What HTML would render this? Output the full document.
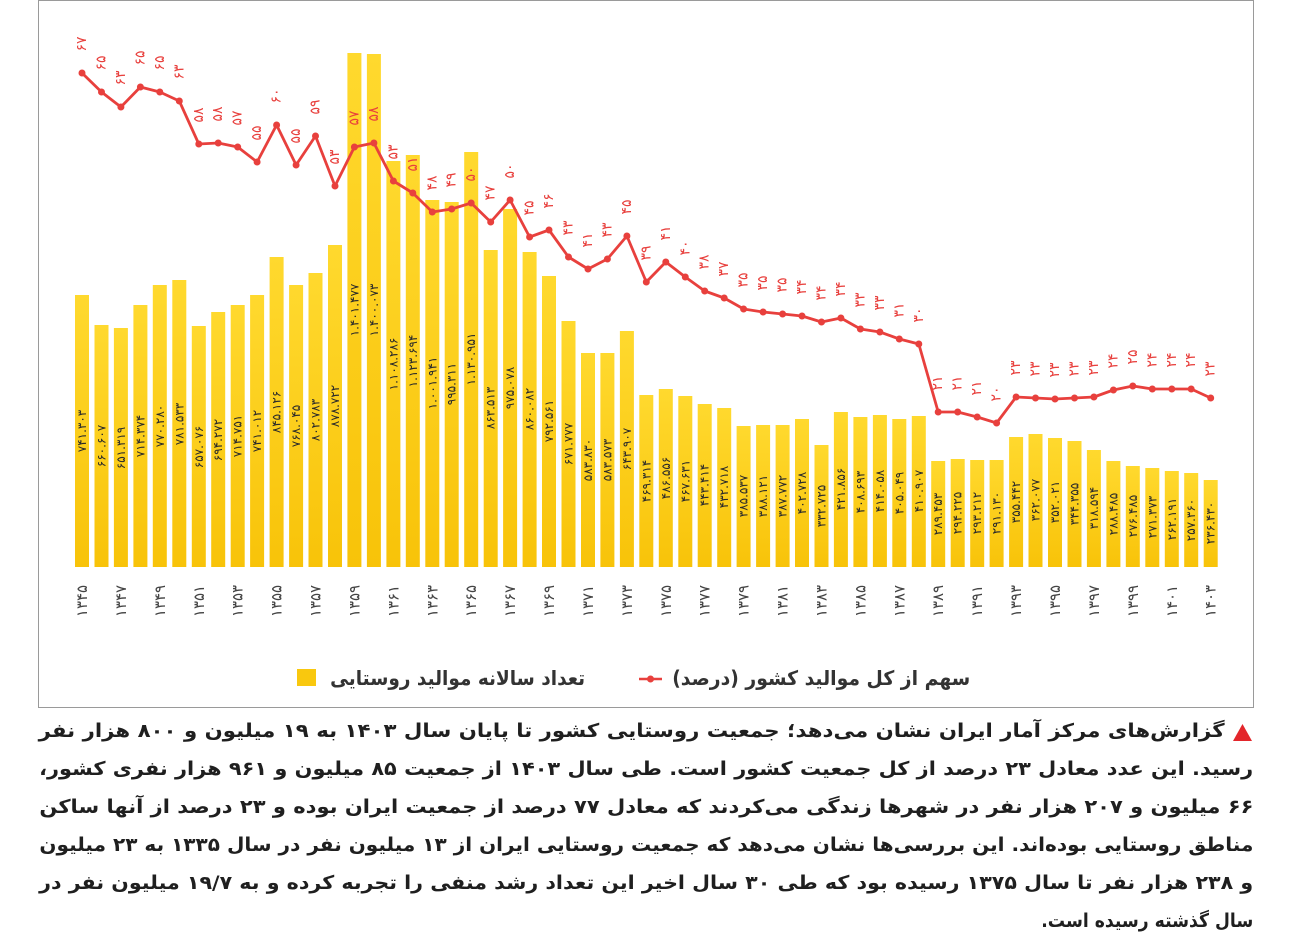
<!DOCTYPE html>
<html><head><meta charset="utf-8">
<style>
html,body{margin:0;padding:0;background:#fff;}
body{width:1292px;height:949px;position:relative;overflow:hidden;font-family:"DejaVu Sans","Liberation Sans",sans-serif;}
svg{position:absolute;left:0;top:0;}
.fa{position:absolute;white-space:nowrap;direction:rtl;font-weight:bold;color:#1f1f1f;transform-origin:right center;}
.cap{font-size:19px;line-height:24px;}
</style></head><body>
<svg width="1292" height="949" viewBox="0 0 1292 949" xmlns="http://www.w3.org/2000/svg">
<defs><linearGradient id="g" x1="0" y1="0" x2="0" y2="1"><stop offset="0" stop-color="#FFD92E"/><stop offset="1" stop-color="#F8C309"/></linearGradient></defs>
<rect x="38.5" y="0.5" width="1215" height="707" fill="#fff" stroke="#9a9a9a" stroke-width="1"/>
<g fill="url(#g)">
<rect x="75" y="295" width="14" height="272"/><rect x="94.5" y="325" width="14" height="242"/><rect x="113.9" y="328" width="14" height="239"/><rect x="133.4" y="305" width="14" height="262"/><rect x="152.8" y="285" width="14" height="282"/><rect x="172.3" y="280" width="14" height="287"/><rect x="191.8" y="326" width="14" height="241"/><rect x="211.2" y="312" width="14" height="255"/><rect x="230.7" y="305" width="14" height="262"/><rect x="250.1" y="295" width="14" height="272"/>
<rect x="269.6" y="257" width="14" height="310"/><rect x="289.1" y="285" width="14" height="282"/><rect x="308.5" y="273" width="14" height="294"/><rect x="328" y="245" width="14" height="322"/><rect x="347.4" y="53" width="14" height="514"/><rect x="366.9" y="54" width="14" height="513"/><rect x="386.4" y="161" width="14" height="406"/><rect x="405.8" y="155" width="14" height="412"/><rect x="425.3" y="200" width="14" height="367"/><rect x="444.7" y="202" width="14" height="365"/>
<rect x="464.2" y="152" width="14" height="415"/><rect x="483.7" y="250" width="14" height="317"/><rect x="503.1" y="209" width="14" height="358"/><rect x="522.6" y="252" width="14" height="315"/><rect x="542" y="276" width="14" height="291"/><rect x="561.5" y="321" width="14" height="246"/><rect x="581" y="353" width="14" height="214"/><rect x="600.4" y="353" width="14" height="214"/><rect x="619.9" y="331" width="14" height="236"/><rect x="639.3" y="395" width="14" height="172"/>
<rect x="658.8" y="389" width="14" height="178"/><rect x="678.3" y="396" width="14" height="171"/><rect x="697.7" y="404" width="14" height="163"/><rect x="717.2" y="408" width="14" height="159"/><rect x="736.6" y="426" width="14" height="141"/><rect x="756.1" y="425" width="14" height="142"/><rect x="775.6" y="425" width="14" height="142"/><rect x="795" y="419" width="14" height="148"/><rect x="814.5" y="445" width="14" height="122"/><rect x="833.9" y="412" width="14" height="155"/>
<rect x="853.4" y="417" width="14" height="150"/><rect x="872.9" y="415" width="14" height="152"/><rect x="892.3" y="419" width="14" height="148"/><rect x="911.8" y="416" width="14" height="151"/><rect x="931.2" y="461" width="14" height="106"/><rect x="950.7" y="459" width="14" height="108"/><rect x="970.2" y="460" width="14" height="107"/><rect x="989.6" y="460" width="14" height="107"/><rect x="1009.1" y="437" width="14" height="130"/><rect x="1028.5" y="434" width="14" height="133"/>
<rect x="1048" y="438" width="14" height="129"/><rect x="1067.5" y="441" width="14" height="126"/><rect x="1086.9" y="450" width="14" height="117"/><rect x="1106.4" y="461" width="14" height="106"/><rect x="1125.8" y="466" width="14" height="101"/><rect x="1145.3" y="468" width="14" height="99"/><rect x="1164.8" y="471" width="14" height="96"/><rect x="1184.2" y="473" width="14" height="94"/><rect x="1203.7" y="480" width="14" height="87"/>
</g>
<g font-family="DejaVu Sans, sans-serif" font-size="12" fill="#2a2a2a" text-anchor="middle" dominant-baseline="central">
<text transform="translate(82,431) rotate(-90)">۷۴۱.۳۰۳</text>
<text transform="translate(101.5,446) rotate(-90)">۶۶۰.۶۰۷</text>
<text transform="translate(120.9,448) rotate(-90)">۶۵۱.۳۱۹</text>
<text transform="translate(140.4,436) rotate(-90)">۷۱۴.۳۷۴</text>
<text transform="translate(159.8,426) rotate(-90)">۷۷۰.۲۸۰</text>
<text transform="translate(179.3,424) rotate(-90)">۷۸۱.۵۳۳</text>
<text transform="translate(198.8,447) rotate(-90)">۶۵۷.۰۷۶</text>
<text transform="translate(218.2,440) rotate(-90)">۶۹۴.۲۷۲</text>
<text transform="translate(237.7,436) rotate(-90)">۷۱۴.۷۵۱</text>
<text transform="translate(257.1,431) rotate(-90)">۷۴۱.۰۱۲</text>
<text transform="translate(276.6,412) rotate(-90)">۸۴۵.۱۲۶</text>
<text transform="translate(296.1,426) rotate(-90)">۷۶۸.۰۴۵</text>
<text transform="translate(315.5,420) rotate(-90)">۸۰۲.۷۸۳</text>
<text transform="translate(335,406) rotate(-90)">۸۷۸.۷۲۲</text>
<text transform="translate(354.4,310) rotate(-90)">۱.۴۰۱.۴۷۷</text>
<text transform="translate(373.9,310) rotate(-90)">۱.۴۰۰.۰۷۳</text>
<text transform="translate(393.4,364) rotate(-90)">۱.۱۰۸.۲۸۶</text>
<text transform="translate(412.8,361) rotate(-90)">۱.۱۲۳.۶۹۴</text>
<text transform="translate(432.3,383) rotate(-90)">۱.۰۰۱.۹۴۱</text>
<text transform="translate(451.7,384) rotate(-90)">۹۹۵.۳۱۱</text>
<text transform="translate(471.2,359) rotate(-90)">۱.۱۳۰.۹۵۱</text>
<text transform="translate(490.7,408) rotate(-90)">۸۶۳.۵۱۳</text>
<text transform="translate(510.1,388) rotate(-90)">۹۷۵.۰۷۸</text>
<text transform="translate(529.6,409) rotate(-90)">۸۶۰.۰۸۲</text>
<text transform="translate(549,421) rotate(-90)">۷۹۲.۵۶۱</text>
<text transform="translate(568.5,444) rotate(-90)">۶۷۱.۷۷۷</text>
<text transform="translate(588,460) rotate(-90)">۵۸۳.۸۳۰</text>
<text transform="translate(607.4,460) rotate(-90)">۵۸۳.۵۷۳</text>
<text transform="translate(626.9,449) rotate(-90)">۶۴۳.۹۰۷</text>
<text transform="translate(646.3,481) rotate(-90)">۴۶۹.۳۱۴</text>
<text transform="translate(665.8,478) rotate(-90)">۴۸۶.۵۵۶</text>
<text transform="translate(685.3,481) rotate(-90)">۴۶۷.۶۳۱</text>
<text transform="translate(704.7,485) rotate(-90)">۴۴۳.۴۱۴</text>
<text transform="translate(724.2,487) rotate(-90)">۴۳۲.۷۱۸</text>
<text transform="translate(743.6,496) rotate(-90)">۳۸۵.۵۳۷</text>
<text transform="translate(763.1,496) rotate(-90)">۳۸۸.۱۲۱</text>
<text transform="translate(782.6,496) rotate(-90)">۳۸۷.۷۷۲</text>
<text transform="translate(802,493) rotate(-90)">۴۰۲.۷۲۸</text>
<text transform="translate(821.5,506) rotate(-90)">۳۳۲.۷۲۵</text>
<text transform="translate(840.9,489) rotate(-90)">۴۲۱.۸۵۶</text>
<text transform="translate(860.4,492) rotate(-90)">۴۰۸.۶۹۳</text>
<text transform="translate(879.9,491) rotate(-90)">۴۱۴.۰۵۸</text>
<text transform="translate(899.3,493) rotate(-90)">۴۰۵.۰۴۹</text>
<text transform="translate(918.8,491) rotate(-90)">۴۱۰.۹۰۷</text>
<text transform="translate(938.2,514) rotate(-90)">۲۸۹.۴۵۳</text>
<text transform="translate(957.7,513) rotate(-90)">۲۹۴.۲۲۵</text>
<text transform="translate(977.2,513) rotate(-90)">۲۹۳.۲۱۲</text>
<text transform="translate(996.6,513) rotate(-90)">۲۹۱.۱۳۰</text>
<text transform="translate(1016.1,502) rotate(-90)">۳۵۵.۴۴۲</text>
<text transform="translate(1035.5,500) rotate(-90)">۳۶۲.۰۷۷</text>
<text transform="translate(1055,502) rotate(-90)">۳۵۲.۰۲۱</text>
<text transform="translate(1074.5,504) rotate(-90)">۳۴۴.۳۵۵</text>
<text transform="translate(1093.9,508) rotate(-90)">۳۱۸.۵۹۴</text>
<text transform="translate(1113.4,514) rotate(-90)">۲۸۸.۴۸۵</text>
<text transform="translate(1132.8,516) rotate(-90)">۲۷۶.۴۸۵</text>
<text transform="translate(1152.3,517) rotate(-90)">۲۷۱.۳۷۳</text>
<text transform="translate(1171.8,519) rotate(-90)">۲۶۲.۱۹۱</text>
<text transform="translate(1191.2,520) rotate(-90)">۲۵۷.۳۶۰</text>
<text transform="translate(1210.7,523) rotate(-90)">۲۳۶.۴۳۰</text>
</g>
<g font-family="DejaVu Sans, sans-serif" font-size="15" fill="#444" text-anchor="middle" dominant-baseline="central">
<text transform="translate(82,601) rotate(-90)">۱۳۴۵</text>
<text transform="translate(120.9,601) rotate(-90)">۱۳۴۷</text>
<text transform="translate(159.8,601) rotate(-90)">۱۳۴۹</text>
<text transform="translate(198.8,601) rotate(-90)">۱۳۵۱</text>
<text transform="translate(237.7,601) rotate(-90)">۱۳۵۳</text>
<text transform="translate(276.6,601) rotate(-90)">۱۳۵۵</text>
<text transform="translate(315.5,601) rotate(-90)">۱۳۵۷</text>
<text transform="translate(354.4,601) rotate(-90)">۱۳۵۹</text>
<text transform="translate(393.4,601) rotate(-90)">۱۳۶۱</text>
<text transform="translate(432.3,601) rotate(-90)">۱۳۶۳</text>
<text transform="translate(471.2,601) rotate(-90)">۱۳۶۵</text>
<text transform="translate(510.1,601) rotate(-90)">۱۳۶۷</text>
<text transform="translate(549,601) rotate(-90)">۱۳۶۹</text>
<text transform="translate(588,601) rotate(-90)">۱۳۷۱</text>
<text transform="translate(626.9,601) rotate(-90)">۱۳۷۳</text>
<text transform="translate(665.8,601) rotate(-90)">۱۳۷۵</text>
<text transform="translate(704.7,601) rotate(-90)">۱۳۷۷</text>
<text transform="translate(743.6,601) rotate(-90)">۱۳۷۹</text>
<text transform="translate(782.6,601) rotate(-90)">۱۳۸۱</text>
<text transform="translate(821.5,601) rotate(-90)">۱۳۸۳</text>
<text transform="translate(860.4,601) rotate(-90)">۱۳۸۵</text>
<text transform="translate(899.3,601) rotate(-90)">۱۳۸۷</text>
<text transform="translate(938.2,601) rotate(-90)">۱۳۸۹</text>
<text transform="translate(977.2,601) rotate(-90)">۱۳۹۱</text>
<text transform="translate(1016.1,601) rotate(-90)">۱۳۹۳</text>
<text transform="translate(1055,601) rotate(-90)">۱۳۹۵</text>
<text transform="translate(1093.9,601) rotate(-90)">۱۳۹۷</text>
<text transform="translate(1132.8,601) rotate(-90)">۱۳۹۹</text>
<text transform="translate(1171.8,601) rotate(-90)">۱۴۰۱</text>
<text transform="translate(1210.7,601) rotate(-90)">۱۴۰۳</text>
</g>
<polyline fill="none" stroke="#E8403D" stroke-width="2.8" stroke-linejoin="round" points="82,73 101.5,92 120.9,107 140.4,87 159.8,92 179.3,101 198.8,144 218.2,143 237.7,147 257.1,162 276.6,125 296.1,165 315.5,136 335,186 354.4,147 373.9,143 393.4,181 412.8,193 432.3,212 451.7,209 471.2,203 490.7,222 510.1,200 529.6,237 549,230 568.5,257 588,269 607.4,259 626.9,236 646.3,282 665.8,262 685.3,277 704.7,291 724.2,298 743.6,309 763.1,312 782.6,314 802,316 821.5,322 840.9,318 860.4,329 879.9,332 899.3,339 918.8,344 938.2,412 957.7,412 977.2,417 996.6,423 1016.1,397 1035.5,398 1055,399 1074.5,398 1093.9,397 1113.4,390 1132.8,386 1152.3,389 1171.8,389 1191.2,389 1210.7,398"/>
<g fill="#E8403D">
<circle cx="82" cy="73" r="3.5"/><circle cx="101.5" cy="92" r="3.5"/><circle cx="120.9" cy="107" r="3.5"/><circle cx="140.4" cy="87" r="3.5"/><circle cx="159.8" cy="92" r="3.5"/><circle cx="179.3" cy="101" r="3.5"/><circle cx="198.8" cy="144" r="3.5"/><circle cx="218.2" cy="143" r="3.5"/><circle cx="237.7" cy="147" r="3.5"/><circle cx="257.1" cy="162" r="3.5"/><circle cx="276.6" cy="125" r="3.5"/><circle cx="296.1" cy="165" r="3.5"/><circle cx="315.5" cy="136" r="3.5"/><circle cx="335" cy="186" r="3.5"/><circle cx="354.4" cy="147" r="3.5"/><circle cx="373.9" cy="143" r="3.5"/><circle cx="393.4" cy="181" r="3.5"/><circle cx="412.8" cy="193" r="3.5"/><circle cx="432.3" cy="212" r="3.5"/><circle cx="451.7" cy="209" r="3.5"/><circle cx="471.2" cy="203" r="3.5"/><circle cx="490.7" cy="222" r="3.5"/><circle cx="510.1" cy="200" r="3.5"/><circle cx="529.6" cy="237" r="3.5"/><circle cx="549" cy="230" r="3.5"/><circle cx="568.5" cy="257" r="3.5"/><circle cx="588" cy="269" r="3.5"/><circle cx="607.4" cy="259" r="3.5"/><circle cx="626.9" cy="236" r="3.5"/><circle cx="646.3" cy="282" r="3.5"/><circle cx="665.8" cy="262" r="3.5"/><circle cx="685.3" cy="277" r="3.5"/><circle cx="704.7" cy="291" r="3.5"/><circle cx="724.2" cy="298" r="3.5"/><circle cx="743.6" cy="309" r="3.5"/><circle cx="763.1" cy="312" r="3.5"/><circle cx="782.6" cy="314" r="3.5"/><circle cx="802" cy="316" r="3.5"/><circle cx="821.5" cy="322" r="3.5"/><circle cx="840.9" cy="318" r="3.5"/><circle cx="860.4" cy="329" r="3.5"/><circle cx="879.9" cy="332" r="3.5"/><circle cx="899.3" cy="339" r="3.5"/><circle cx="918.8" cy="344" r="3.5"/><circle cx="938.2" cy="412" r="3.5"/><circle cx="957.7" cy="412" r="3.5"/><circle cx="977.2" cy="417" r="3.5"/><circle cx="996.6" cy="423" r="3.5"/><circle cx="1016.1" cy="397" r="3.5"/><circle cx="1035.5" cy="398" r="3.5"/><circle cx="1055" cy="399" r="3.5"/><circle cx="1074.5" cy="398" r="3.5"/><circle cx="1093.9" cy="397" r="3.5"/><circle cx="1113.4" cy="390" r="3.5"/><circle cx="1132.8" cy="386" r="3.5"/><circle cx="1152.3" cy="389" r="3.5"/><circle cx="1171.8" cy="389" r="3.5"/><circle cx="1191.2" cy="389" r="3.5"/><circle cx="1210.7" cy="398" r="3.5"/>
</g>
<g font-family="DejaVu Sans, sans-serif" font-size="14" fill="#E8403D" text-anchor="middle" dominant-baseline="central" transform="translate(0,-2)">
<text transform="translate(82,46) rotate(-90)">۶۷</text><text transform="translate(101.5,65) rotate(-90)">۶۵</text><text transform="translate(120.9,80) rotate(-90)">۶۳</text><text transform="translate(140.4,60) rotate(-90)">۶۵</text><text transform="translate(159.8,65) rotate(-90)">۶۵</text><text transform="translate(179.3,74) rotate(-90)">۶۳</text><text transform="translate(198.8,117) rotate(-90)">۵۸</text><text transform="translate(218.2,116) rotate(-90)">۵۸</text><text transform="translate(237.7,120) rotate(-90)">۵۷</text><text transform="translate(257.1,135) rotate(-90)">۵۵</text>
<text transform="translate(276.6,98) rotate(-90)">۶۰</text><text transform="translate(296.1,138) rotate(-90)">۵۵</text><text transform="translate(315.5,109) rotate(-90)">۵۹</text><text transform="translate(335,159) rotate(-90)">۵۳</text><text transform="translate(354.4,120) rotate(-90)">۵۷</text><text transform="translate(373.9,116) rotate(-90)">۵۸</text><text transform="translate(393.4,154) rotate(-90)">۵۳</text><text transform="translate(412.8,166) rotate(-90)">۵۱</text><text transform="translate(432.3,185) rotate(-90)">۴۸</text><text transform="translate(451.7,182) rotate(-90)">۴۹</text>
<text transform="translate(471.2,176) rotate(-90)">۵۰</text><text transform="translate(490.7,195) rotate(-90)">۴۷</text><text transform="translate(510.1,173) rotate(-90)">۵۰</text><text transform="translate(529.6,210) rotate(-90)">۴۵</text><text transform="translate(549,203) rotate(-90)">۴۶</text><text transform="translate(568.5,230) rotate(-90)">۴۳</text><text transform="translate(588,242) rotate(-90)">۴۱</text><text transform="translate(607.4,232) rotate(-90)">۴۳</text><text transform="translate(626.9,209) rotate(-90)">۴۵</text><text transform="translate(646.3,255) rotate(-90)">۳۹</text>
<text transform="translate(665.8,235) rotate(-90)">۴۱</text><text transform="translate(685.3,250) rotate(-90)">۴۰</text><text transform="translate(704.7,264) rotate(-90)">۳۸</text><text transform="translate(724.2,271) rotate(-90)">۳۷</text><text transform="translate(743.6,282) rotate(-90)">۳۵</text><text transform="translate(763.1,285) rotate(-90)">۳۵</text><text transform="translate(782.6,287) rotate(-90)">۳۵</text><text transform="translate(802,289) rotate(-90)">۳۴</text><text transform="translate(821.5,295) rotate(-90)">۳۴</text><text transform="translate(840.9,291) rotate(-90)">۳۴</text>
<text transform="translate(860.4,302) rotate(-90)">۳۳</text><text transform="translate(879.9,305) rotate(-90)">۳۳</text><text transform="translate(899.3,312) rotate(-90)">۳۱</text><text transform="translate(918.8,317) rotate(-90)">۳۰</text><text transform="translate(938.2,385) rotate(-90)">۲۱</text><text transform="translate(957.7,385) rotate(-90)">۲۱</text><text transform="translate(977.2,390) rotate(-90)">۲۱</text><text transform="translate(996.6,396) rotate(-90)">۲۰</text><text transform="translate(1016.1,370) rotate(-90)">۲۳</text><text transform="translate(1035.5,371) rotate(-90)">۲۳</text>
<text transform="translate(1055,372) rotate(-90)">۲۳</text><text transform="translate(1074.5,371) rotate(-90)">۲۳</text><text transform="translate(1093.9,370) rotate(-90)">۲۳</text><text transform="translate(1113.4,363) rotate(-90)">۲۴</text><text transform="translate(1132.8,359) rotate(-90)">۲۵</text><text transform="translate(1152.3,362) rotate(-90)">۲۴</text><text transform="translate(1171.8,362) rotate(-90)">۲۴</text><text transform="translate(1191.2,362) rotate(-90)">۲۴</text><text transform="translate(1210.7,371) rotate(-90)">۲۳</text>
</g>
<line x1="639" y1="679" x2="662" y2="679" stroke="#E8403D" stroke-width="2.5"/><circle cx="650.5" cy="679" r="3.5" fill="#E8403D"/>
<rect x="297" y="669" width="19" height="17" fill="#F9C80E"/>
<polygon points="1233,741 1252,741 1242.5,724" fill="#E3262B"/>
</svg>
<div class="fa" data-w="298" style="right:322px;top:666px;font-size:20px;color:#333;">سهم از کل موالید کشور (درصد)</div>
<div class="fa" data-w="255" style="right:707px;top:666px;font-size:20px;color:#333;">تعداد سالانه موالید روستایی</div>
<div class="fa cap" data-w="1186" style="right:67px;top:719px;">گزارش‌های مرکز آمار ایران نشان می‌دهد؛ جمعیت روستایی کشور تا پایان سال ۱۴۰۳ به ۱۹ میلیون و ۸۰۰ هزار نفر</div>
<div class="fa cap" data-w="1214" style="right:39px;top:757px;">رسید. این عدد معادل ۲۳ درصد از کل جمعیت کشور است. طی سال ۱۴۰۳ از جمعیت ۸۵ میلیون و ۹۶۱ هزار نفری کشور،</div>
<div class="fa cap" data-w="1214" style="right:39px;top:795px;">۶۶ میلیون و ۲۰۷ هزار نفر در شهرها زندگی می‌کردند که معادل ۷۷ درصد از جمعیت ایران بوده و ۲۳ درصد از آنها ساکن</div>
<div class="fa cap" data-w="1214" style="right:39px;top:833px;">مناطق روستایی بوده‌اند. این بررسی‌ها نشان می‌دهد که جمعیت روستایی ایران از ۱۳ میلیون نفر در سال ۱۳۳۵ به ۲۳ میلیون</div>
<div class="fa cap" data-w="1214" style="right:39px;top:871px;">و ۲۳۸ هزار نفر تا سال ۱۳۷۵ رسیده بود که طی ۳۰ سال اخیر این تعداد رشد منفی را تجربه کرده و به ۱۹/۷ میلیون نفر در</div>
<div class="fa cap" data-w="212" style="right:39px;top:909px;">سال گذشته رسیده است.</div>
<script>
document.querySelectorAll('.fa').forEach(function(e){
  var w=parseFloat(e.getAttribute('data-w'));var r=e.getBoundingClientRect().width;
  if(r>0){e.style.transform='scaleX('+(w/r)+')';}
});
</script>
</body></html>
